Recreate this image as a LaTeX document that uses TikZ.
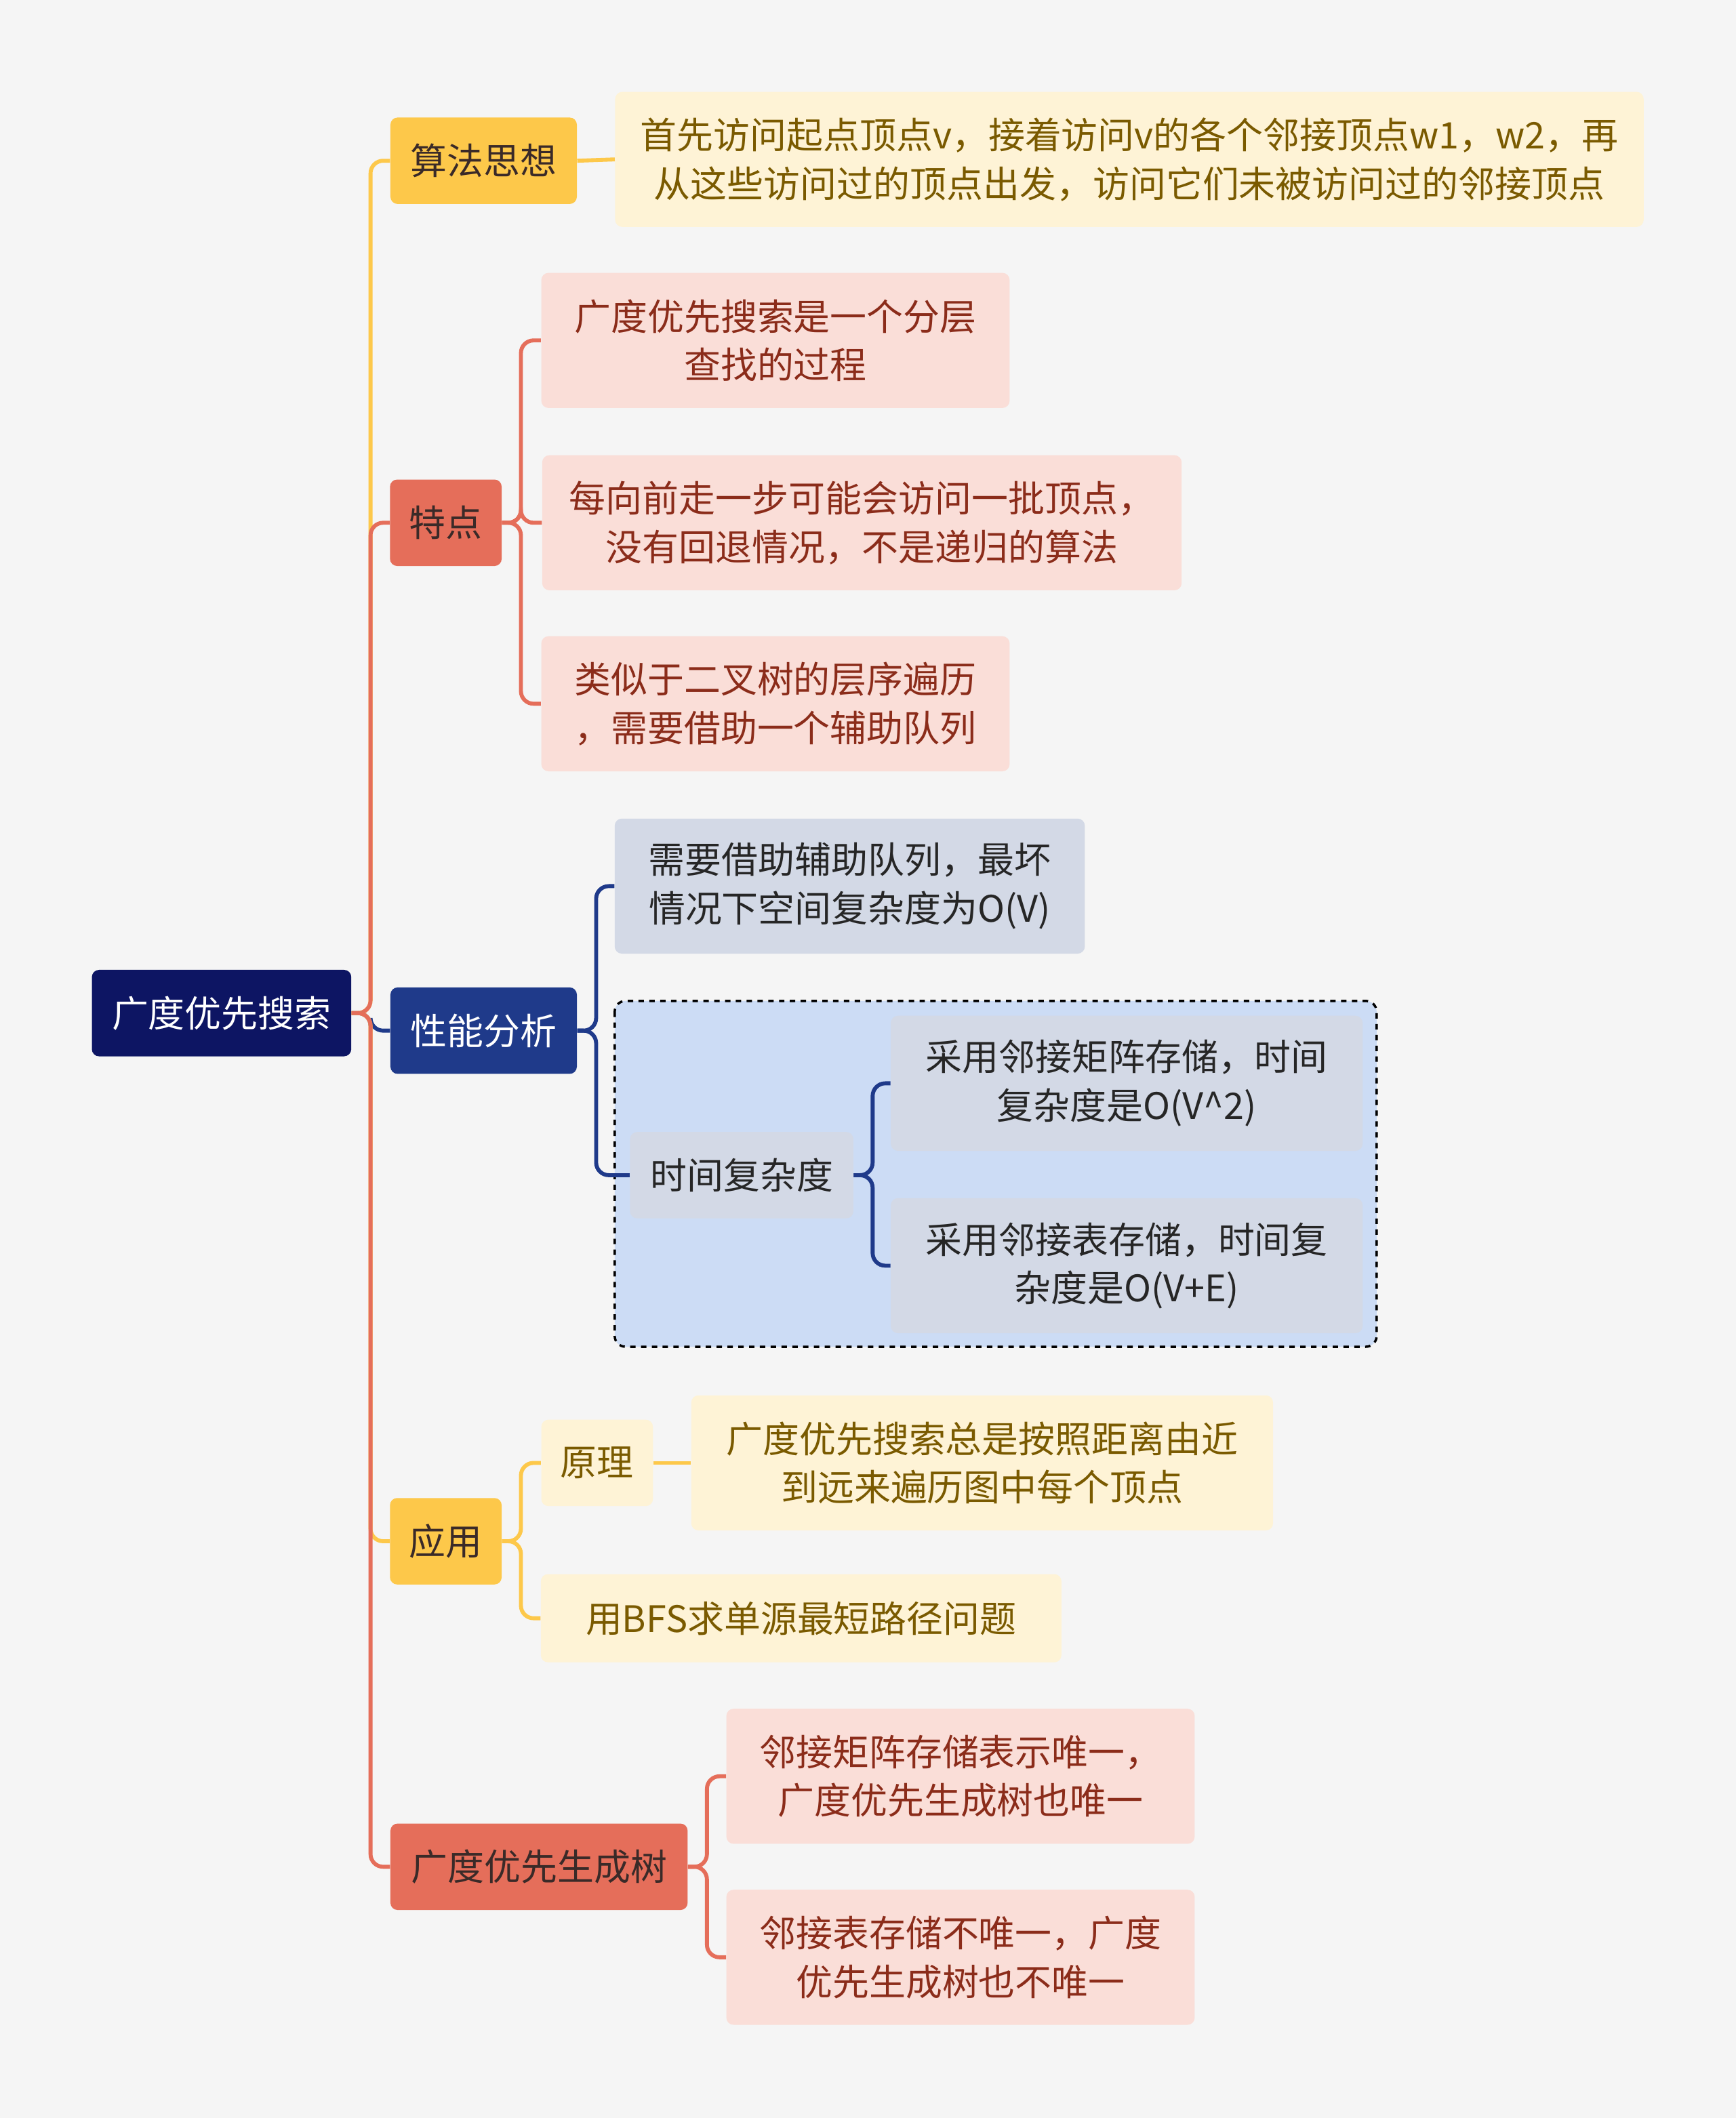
\documentclass[tikz,border=0pt]{standalone}
\usepackage{fontspec}
\setmainfont{Noto Sans CJK SC}
\definecolor{bg}{HTML}{F5F5F5}
\definecolor{navy}{HTML}{0D1563}
\definecolor{yel}{HTML}{FDC84A}
\definecolor{yellite}{HTML}{FEF3D6}
\definecolor{yeltxt}{HTML}{7A5A00}
\definecolor{red}{HTML}{E56E5A}
\definecolor{redlite}{HTML}{FADED8}
\definecolor{redtxt}{HTML}{8B2C1A}
\definecolor{blu}{HTML}{1F3A8A}
\definecolor{blulite}{HTML}{D3D9E6}
\definecolor{bluzone}{HTML}{CCDCF5}
\definecolor{dark}{HTML}{3A2A28}
\begin{document}
\begin{tikzpicture}[x=0.75pt, y=-0.75pt,
    box/.style={rectangle, rounded corners=4pt, inner sep=0pt, align=center, font=\fontsize{20.3pt}{27pt}\selectfont},
    rootbox/.style={box, fill=navy, text=white, minimum width=144pt, minimum height=48pt},
    yelbox/.style={box, fill=yel, text=dark},
    yelleaf/.style={box, fill=yellite, text=yeltxt},
    redbox/.style={box, fill=red, text=dark},
    redleaf/.style={box, fill=redlite, text=redtxt},
    blubox/.style={box, fill=blu, text=white},
    bluleaf/.style={box, fill=blulite, text=black!85},
    link/.style={line width=2.2pt, rounded corners=7pt}]
    \fill[bg] (0,0) rectangle (1285,1568);

    % Root and main branches
    \node[rootbox] (root) at (164,750) {广度优先搜索};
    \node[yelbox, minimum width=103.5pt, minimum height=48pt] (idea) at (358,119) {算法思想};
    \node[redbox, minimum width=62pt, minimum height=48pt] (feat) at (330,387) {特点};
    \node[blubox, minimum width=103.5pt, minimum height=48pt] (perf) at (358,763) {性能分析};
    \node[yelbox, minimum width=62pt, minimum height=48pt] (app) at (330,1141) {应用};
    \node[redbox, minimum width=165pt, minimum height=48pt] (tree) at (399,1382) {广度优先生成树};

    % Leaves
    \node[yelleaf, minimum width=571pt, minimum height=75pt] (idea-1) at (836,118) {首先访问起点顶点v，接着访问v的各个邻接顶点w1，w2，再\\从这些访问过的顶点出发，访问它们未被访问过的邻接顶点};
    \node[redleaf, minimum width=260pt, minimum height=75pt] (feat-1) at (574,252) {广度优先搜索是一个分层\\查找的过程};
    \node[redleaf, minimum width=355pt, minimum height=75pt] (feat-2) at (638,387) {每向前走一步可能会访问一批顶点，\\没有回退情况，不是递归的算法};
    \node[redleaf, minimum width=260pt, minimum height=75pt] (feat-3) at (574,521) {类似于二叉树的层序遍历\\，需要借助一个辅助队列};

    \draw[dashed, line width=1.3pt, fill=bluzone, rounded corners=6pt] (455,741) rectangle (1019,997);
    \node[bluleaf, minimum width=261pt, minimum height=75pt] (perf-1) at (629,656) {需要借助辅助队列，最坏\\情况下空间复杂度为O(V)};
    \node[bluleaf, minimum width=124pt, minimum height=48pt] (time) at (549,870) {时间复杂度};
    \node[bluleaf, minimum width=262pt, minimum height=75pt] (time-1) at (834,802) {采用邻接矩阵存储，时间\\复杂度是O(V\^{}2)};
    \node[bluleaf, minimum width=262pt, minimum height=75pt] (time-2) at (834,937) {采用邻接表存储，时间复\\杂度是O(V+E)};

    \node[yelleaf, minimum width=62pt, minimum height=48pt] (rule) at (442,1083) {原理};
    \node[yelleaf, minimum width=323pt, minimum height=75pt] (rule-1) at (727,1083) {广度优先搜索总是按照距离由近\\到远来遍历图中每个顶点};
    \node[yelleaf, minimum width=289pt, minimum height=49pt] (app-2) at (593,1198) {用BFS求单源最短路径问题};

    \node[redleaf, minimum width=260pt, minimum height=75pt] (tree-1) at (711,1315) {邻接矩阵存储表示唯一，\\广度优先生成树也唯一};
    \node[redleaf, minimum width=260pt, minimum height=75pt] (tree-2) at (711,1449) {邻接表存储不唯一，广度\\优先生成树也不唯一};

    % Connectors
    \draw[link, yel] (root.east) -- ++(14,0) |- (idea.west);
    \draw[link, red] (root.east) -- ++(14,0) |- (feat.west);
    \draw[link, blu] (root.east) -- ++(14,0) |- (perf.west);
    \draw[link, yel] (root.east) -- ++(14,0) |- (app.west);
    \draw[link, red] (root.east) -- ++(14,0) |- (tree.west);
    \draw[link, yel] (idea.east) -- (idea-1.west);
    \foreach \k in {1,2,3} \draw[link, red] (feat.east) -- ++(14,0) |- (feat-\k.west);
    \foreach \k in {perf-1,time} \draw[link, blu] (perf.east) -- ++(14,0) |- (\k.west);
    \foreach \k in {1,2} \draw[link, blu] (time.east) -- ++(14,0) |- (time-\k.west);
    \foreach \k in {rule,app-2} \draw[link, yel] (app.east) -- ++(14,0) |- (\k.west);
    \draw[link, yel] (rule.east) -- (rule-1.west);
    \foreach \k in {1,2} \draw[link, red] (tree.east) -- ++(14,0) |- (tree-\k.west);
\end{tikzpicture}
\end{document}
